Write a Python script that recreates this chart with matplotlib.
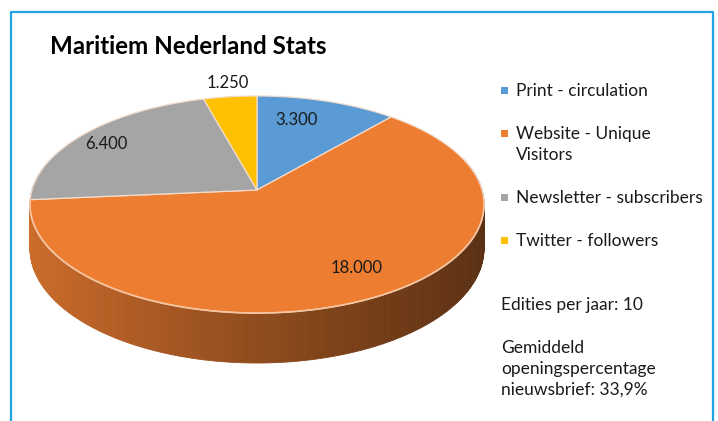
import numpy as np
import matplotlib.pyplot as plt
from matplotlib.colors import to_rgb
from matplotlib.patches import Polygon, Rectangle

# data
series = ['Print - circulation', 'Website - Unique\nVisitors',
          'Newsletter - subscribers', 'Twitter - followers']
values = [3300, 18000, 6400, 1250]
value_text = ['3.300', '18.000', '6.400', '1.250']
colors = ['#5b9bd5', '#ed7d31', '#a5a5a5', '#ffc000']
notes = ['Edities per jaar: 10',
         'Gemiddeld\nopeningspercentage\nnieuwsbrief: 33,9%']

# layout (pixels)
cx, cy = 257, 190            # projected centre of the pie
A, B, k = 225, 106.6, 0.1336 # radii and perspective factor
depth = 43.3                 # thickness of the pie
label_pos = [(296.5, 125), (357, 273), (106, 149), (228, 88)]
legend_base = [96, 139.5, 203, 246]
line_step = 21

fig = plt.figure(figsize=(7.18, 4.21), dpi=100)
ax = fig.add_axes([0, 0, 1, 1])
ax.set_xlim(0, 718)
ax.set_ylim(421, 0)
ax.axis('off')
fig.patch.set_facecolor('white')

# frame
ax.plot([11, 11, 713, 713], [430, 11.5, 11.5, 430], color='#22a4e2', lw=1.6)

def pt(phi, dz=0.0):
    u, v = np.cos(phi), np.sin(phi)
    w = 1 + k*v
    return cx + A*u/w, cy - B*v/w + dz/w

# slice angles, starting at 12 o'clock going clockwise
frac = np.array(values)/np.sum(values)
starts = np.pi/2 - 2*np.pi*np.concatenate([[0], np.cumsum(frac)[:-1]])
ends = starts - 2*np.pi*frac

def shade(c, f):
    return tuple(np.clip(np.array(to_rgb(c))*f, 0, 1))

# sides, back to front
quads = []
for s, e, c in zip(starts, ends, colors):
    ts = np.linspace(e, s, max(int(np.degrees(s - e)), 2) + 1)
    for t0, t1 in zip(ts[:-1], ts[1:]):
        tm = 0.5*(t0 + t1)
        if np.sin(tm) > 0.3:
            continue
        x0, y0 = pt(t0)
        x1, y1 = pt(t1)
        x0b, y0b = pt(t0, depth)
        x1b, y1b = pt(t1, depth)
        fx = (0.5*(x0 + x1) - (cx - A))/(2*A)
        f = 0.86 - 0.47*np.clip(fx, 0, 1)**0.9
        quads.append((np.sin(tm), [(x0, y0), (x1, y1), (x1b, y1b), (x0b, y0b)],
                      shade(c, f)))
quads.sort(key=lambda q: -q[0])
for _, quad, col in quads:
    ax.add_patch(Polygon(quad, closed=True, facecolor=col, edgecolor=col, lw=0.6))

# top faces
for s, e, c in zip(starts, ends, colors):
    ts = np.linspace(s, e, 200)
    xs, ys = pt(ts)
    verts = [(cx, cy)] + list(zip(xs, ys))
    ax.add_patch(Polygon(verts, closed=True, facecolor=c,
                         edgecolor='#f3dccb', lw=0.9))

# light rim between top and side
tr = np.linspace(np.radians(185), np.radians(355), 200)
rx, ry = pt(tr)
ax.plot(rx, ry, color='#f6c49f', lw=1.2)

font = 'Lato'
txt_col = '#1a1a1a'

# data labels
for txt, (x, y) in zip(value_text, label_pos):
    ax.text(x, y, txt, fontsize=12, family=font, color=txt_col,
            ha='center', va='baseline')

# title
ax.text(50, 54, 'Maritiem Nederland Stats', fontsize=17.4, family=font,
        fontweight='bold', color='black', ha='left', va='baseline')

# legend
for lab, c, y in zip(series, colors, legend_base):
    ax.add_patch(Rectangle((500.5, y - 9.5), 7, 7, facecolor=c, edgecolor='none'))
    for i, line in enumerate(lab.split('\n')):
        ax.text(516, y + i*line_step, line, fontsize=12.5, family=font,
                color=txt_col, ha='left', va='baseline')

# notes
note_base = [310, 353]
for note, y in zip(notes, note_base):
    for i, line in enumerate(note.split('\n')):
        ax.text(501, y + i*line_step, line, fontsize=12.5, family=font,
                color=txt_col, ha='left', va='baseline')

fig.savefig('out.png', dpi=100)
